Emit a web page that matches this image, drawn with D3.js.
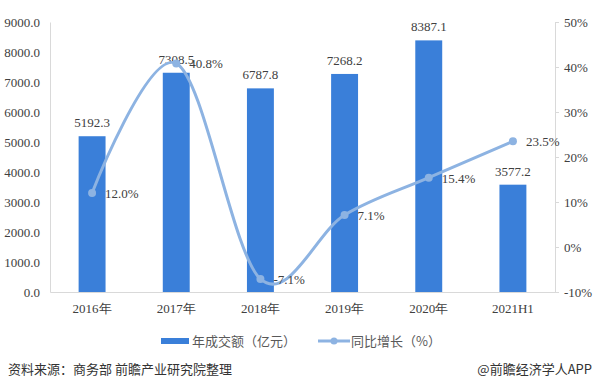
<!DOCTYPE html>
<html><head><meta charset="utf-8">
<script src="https://cdn.jsdelivr.net/npm/d3@7"></script>
<style>
body{margin:0;background:#fff;}
svg{display:block;}
</style></head>
<body>
<svg id="c" width="598" height="390"></svg>
<script>
const categories = ["2016年","2017年","2018年","2019年","2020年","2021H1"];
const amounts = [5192.3, 7308.5, 6787.8, 7268.2, 8387.1, 3577.2];
const growth = [12.0, 40.8, -7.1, 7.1, 15.4, 23.5];
const leftTicks = [0,1000,2000,3000,4000,5000,6000,7000,8000,9000];
const rightTicks = [-10,0,10,20,30,40,50];
const seriesNames = ["年成交额（亿元）","同比增长（%）"];
const sourceText = "资料来源：商务部 前瞻产业研究院整理";
const brandText = "@前瞻经济学人APP";

const svg = d3.select("#c");
const serif = "'Liberation Serif','Times New Roman',serif";
const sans = "'Noto Sans CJK SC','Microsoft YaHei',sans-serif";
const barColor = "#3a7fd9";
const lineColor = "#8db3e2";
const axisColor = "#d9d9d9";
const textColor = "#404040";

const L = 50, R = 555, T = 22, B = 292;
const x = d3.scaleBand().domain(categories).range([L, R]).paddingInner(0.68).paddingOuter(0.34);
const y = d3.scaleLinear().domain([0, 9000]).range([B, T]);
const y2 = d3.scaleLinear().domain([-10, 50]).range([B, T]);

// left axis
const gl = svg.append("g").attr("transform", `translate(${L},0)`)
  .call(d3.axisLeft(y).tickValues(leftTicks).tickSize(0).tickPadding(10).tickFormat(d3.format(".1f")));
gl.select(".domain").attr("stroke", axisColor);
gl.selectAll("text").attr("font-family", serif).attr("font-size", 13).attr("fill", textColor);

// right axis
const gr = svg.append("g").attr("transform", `translate(${R},0)`)
  .call(d3.axisRight(y2).tickValues(rightTicks).tickSize(4).tickPadding(5).tickFormat(d => d + "%"));
gr.select(".domain").attr("stroke", axisColor);
gr.selectAll(".tick line").attr("stroke", axisColor);
gr.selectAll("text").attr("font-family", serif).attr("font-size", 13).attr("fill", textColor);

// bottom axis
const gb = svg.append("g").attr("transform", `translate(0,${B})`)
  .call(d3.axisBottom(x).tickSize(0).tickPadding(12));
gb.select(".domain").attr("stroke", axisColor);
gb.selectAll("text").attr("font-family", serif).attr("font-size", 13).attr("fill", textColor);

// bars
svg.append("g").selectAll("rect").data(amounts).join("rect")
  .attr("x", (d, i) => x(categories[i]))
  .attr("width", x.bandwidth())
  .attr("y", d => y(d))
  .attr("height", d => B - y(d))
  .attr("fill", barColor);

svg.append("g").selectAll("text").data(amounts).join("text")
  .attr("x", (d, i) => x(categories[i]) + x.bandwidth() / 2)
  .attr("y", d => y(d) - 9)
  .attr("text-anchor", "middle")
  .attr("font-family", serif).attr("font-size", 13).attr("fill", textColor)
  .text(d => d.toFixed(1));

// line
const cx = i => x(categories[i]) + x.bandwidth() / 2;
const line = d3.line().x((d, i) => cx(i)).y(d => y2(d)).curve(d3.curveCardinal.tension(0));
svg.append("path").datum(growth).attr("d", line)
  .attr("fill", "none").attr("stroke", lineColor).attr("stroke-width", 3);
svg.append("g").selectAll("circle").data(growth).join("circle")
  .attr("cx", (d, i) => cx(i)).attr("cy", d => y2(d)).attr("r", 4)
  .attr("fill", lineColor);
svg.append("g").selectAll("text").data(growth).join("text")
  .attr("x", (d, i) => cx(i) + 13)
  .attr("y", d => y2(d) + 5)
  .attr("font-family", serif).attr("font-size", 13).attr("fill", textColor)
  .text(d => d.toFixed(1) + "%");

// legend
const lg = svg.append("g");
lg.append("rect").attr("x", 161).attr("y", 338).attr("width", 28).attr("height", 6).attr("fill", barColor);
lg.append("text").attr("x", 192).attr("y", 346).attr("font-family", sans).attr("font-size", 13)
  .attr("fill", "#595959").text(seriesNames[0]);
lg.append("line").attr("x1", 318).attr("x2", 350).attr("y1", 341).attr("y2", 341)
  .attr("stroke", lineColor).attr("stroke-width", 3);
lg.append("circle").attr("cx", 334).attr("cy", 341).attr("r", 3.5).attr("fill", lineColor);
lg.append("text").attr("x", 351).attr("y", 346).attr("font-family", sans).attr("font-size", 13)
  .attr("fill", "#595959").text(seriesNames[1]);

// footer
svg.append("text").attr("x", 8).attr("y", 374).attr("font-family", sans).attr("font-size", 13)
  .attr("fill", "#333").text(sourceText);
svg.append("text").attr("x", 592).attr("y", 374).attr("text-anchor", "end").attr("font-family", sans).attr("font-size", 13)
  .attr("fill", "#333").text(brandText);
</script>
</body></html>
